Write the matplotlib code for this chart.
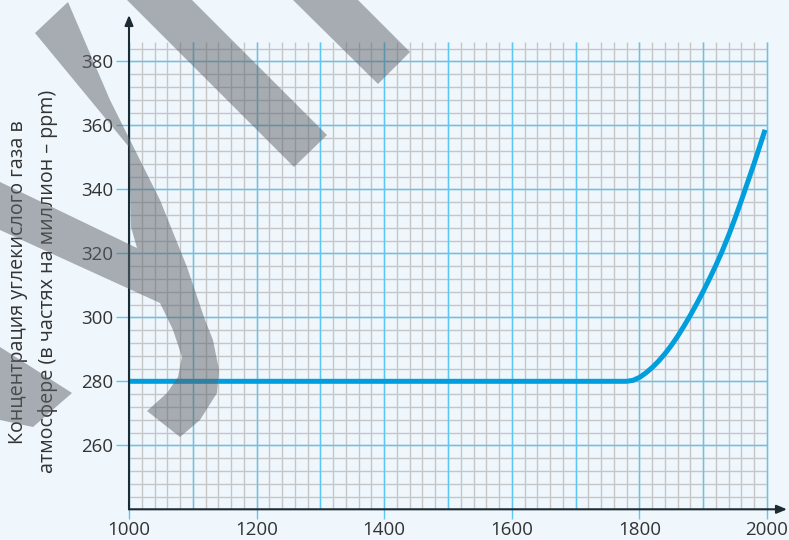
import matplotlib
matplotlib.use("Agg")
import matplotlib.pyplot as plt
from matplotlib.patches import Polygon
import numpy as np

plt.rcParams['font.family'] = ['Open Sans', 'DejaVu Sans']

# ---- data ----
years = [1000, 1100, 1200, 1300, 1400, 1500, 1600, 1700, 1780, 1790, 1800, 1810,
         1820, 1830, 1840, 1850, 1860, 1870, 1880, 1890, 1900, 1910, 1920, 1930,
         1940, 1950, 1960, 1970, 1980, 1990, 1997]
co2 = [280, 280, 280, 280, 280, 280, 280, 280, 280.0, 280.3, 281.2, 282.6,
       284.3, 286.3, 288.6, 291.2, 294.1, 297.3, 300.7, 304.3, 308.1, 312.1,
       316.3, 320.8, 325.7, 331.0, 336.6, 342.4, 348.2, 354.3, 358.6]
x_ticks = [1000, 1200, 1400, 1600, 1800, 2000]
y_ticks = [260, 280, 300, 320, 340, 360, 380]
ylabel_line1 = "Концентрация углекислого газа в"
ylabel_line2 = "атмосфере (в частях на миллион – ppm)"

BG = '#EFF7FD'
BLUE_GRID = '#5CC7F2'
GRAY_GRID = '#C6C6C6'
CURVE = '#009EDC'
AXIS = '#1E2B33'
TEXT = '#333333'

W, H = 789, 540
fig = plt.figure(figsize=(W / 100, H / 100), dpi=100, facecolor=BG)

left_px, right_px = 129, 787
bottom_px, top_px = 509.3, 15
ax = fig.add_axes([left_px / W, 1 - bottom_px / H,
                   (right_px - left_px) / W, (bottom_px - top_px) / H])
ax.set_facecolor(BG)
xmin, xmax = 1000, 1000 + (right_px - left_px) / 0.638
ymin, ymax = 240, 240 + (bottom_px - top_px) / 3.2
ax.set_xlim(xmin, xmax)
ax.set_ylim(ymin, ymax)
for s in ax.spines.values():
    s.set_visible(False)

# grid
gx_minor = np.arange(1000, 2001, 20)
gy_minor = np.arange(240, 385, 4)
ax.vlines(gx_minor, 240, 386, colors=GRAY_GRID, lw=1.0, zorder=1)
ax.hlines(gy_minor, 1000, 2000, colors=GRAY_GRID, lw=1.0, zorder=1)
ax.vlines(np.arange(1000, 2001, 100), 240, 386, colors=BLUE_GRID, lw=1.0, zorder=2)
ax.hlines(y_ticks, 1000, 2000, colors=BLUE_GRID, lw=1.0, zorder=2)

# curve
ax.plot(years, co2, color=CURVE, lw=3.6, solid_capstyle='butt',
        solid_joinstyle='round', zorder=4)

# axes with arrows
arrow = dict(arrowstyle='-|>,head_length=0.6,head_width=0.25',
             color=AXIS, lw=1.5, shrinkA=0, shrinkB=0)
ax.annotate('', xy=(1000, ymax), xytext=(1000, 240), arrowprops=arrow,
            annotation_clip=False, zorder=5)
ax.annotate('', xy=(xmax, 240), xytext=(1000, 240), arrowprops=arrow,
            annotation_clip=False, zorder=5)

# ticks
ax.set_xticks(x_ticks)
ax.set_xticklabels([str(v) for v in x_ticks])
ax.set_yticks(y_ticks)
ax.set_yticklabels([str(v) for v in y_ticks])
ax.tick_params(axis='x', length=7.5, width=1, color=BLUE_GRID, pad=1,
               labelsize=13.5, labelcolor=TEXT)
ax.tick_params(axis='y', length=9.5, width=1, color=BLUE_GRID, pad=2,
               labelsize=13.5, labelcolor=TEXT)

# y label (two lines)
fig.text(18.5 / W, 1 - 282 / H, ylabel_line1, rotation=90, ha='center',
         va='center', fontsize=14.2, color=TEXT)
fig.text(48.5 / W, 1 - 281 / H, ylabel_line2, rotation=90, ha='center',
         va='center', fontsize=14.2, color=TEXT)

# decorative translucent gray strokes (pixel outlines, top-left origin)
shapes = [
    [(127, 0), (192, 0), (327, 135), (294, 167)],
    [(293, 0), (358, 0), (410, 52), (378, 84)],
    [(68, 2), (110, 100), (160, 200), (187, 267), (205, 320), (213, 340),
     (219, 370), (217, 393), (200, 420), (180, 437), (147, 411), (167, 393),
     (178, 377), (182, 357), (173, 330), (160, 303), (0, 230), (0, 182),
     (137, 248), (131, 227), (129, 147), (35, 33)],
    [(0, 347), (72, 393), (33, 427), (0, 420)],
]
for pts in shapes:
    poly = Polygon([(x / W, 1 - y / H) for x, y in pts], closed=True,
                   transform=fig.transFigure, facecolor='#5E6367', alpha=0.5,
                   edgecolor='none', zorder=10)
    fig.patches.append(poly)

fig.savefig('out.png', dpi=100, facecolor=BG)
